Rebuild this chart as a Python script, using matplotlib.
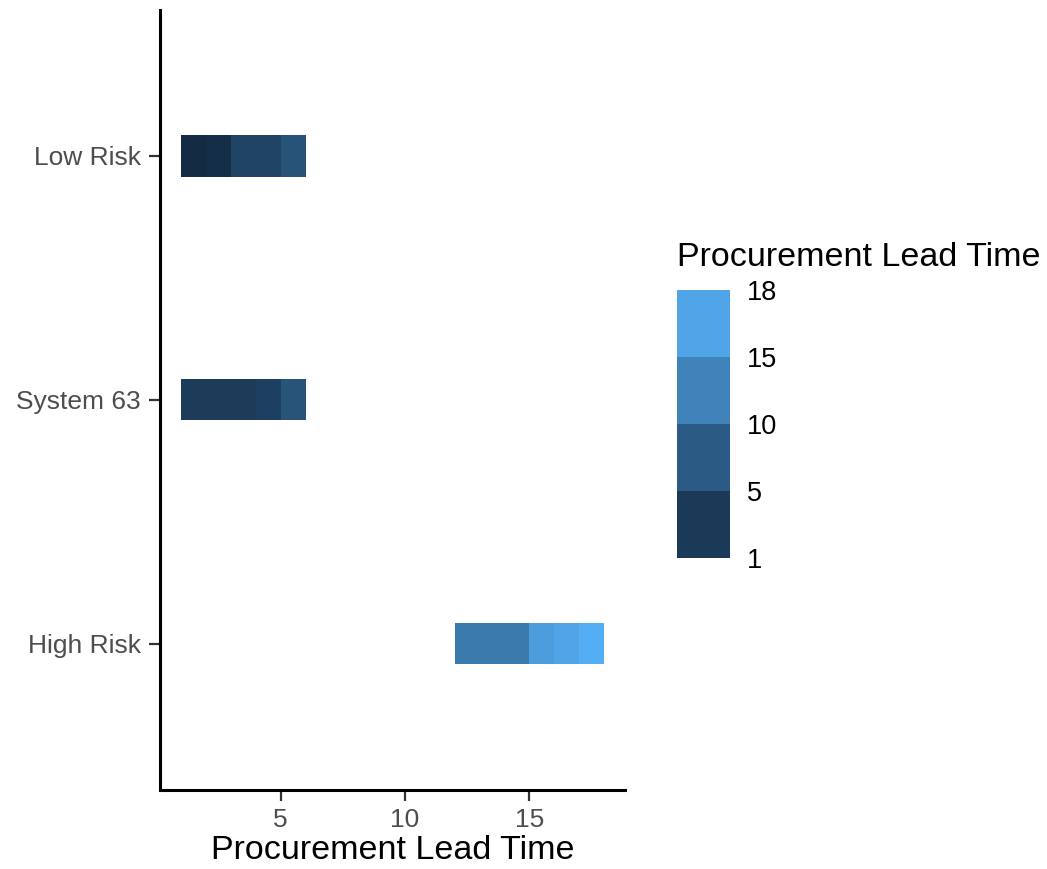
import numpy as np
import matplotlib
matplotlib.use("Agg")
from matplotlib import pyplot as plt
from matplotlib.colors import LinearSegmentedColormap, BoundaryNorm, Normalize
from matplotlib.cm import ScalarMappable

# categories from bottom to top
categories = ["High Risk", "System 63", "Low Risk"]

# tile segments per category: start, end and fill value (lead time)
low_start = [1, 2, 3, 5]
low_end = [2, 3, 5, 6]
low_fill = [1.0, 1.5, 4.4, 6.4]

sys_start = [1, 4, 5]
sys_end = [4, 5, 6]
sys_fill = [3.3, 3.9, 6.5]

high_start = [12, 15, 16, 17]
high_end = [15, 16, 17, 18]
high_fill = [11.4, 15.6, 16.6, 17.6]

legend_breaks = [1, 5, 10, 15, 18]

plt.rcParams["font.family"] = ["Liberation Sans", "DejaVu Sans"]

cmap = LinearSegmentedColormap.from_list("gg", ["#132B43", "#336A98", "#56B1F7"])
norm = Normalize(vmin=1, vmax=18)

fig = plt.figure(figsize=(10.47, 8.69), dpi=100)
ax = fig.add_axes([0.153, 0.091, 0.444, 0.898])

rows = {
    "Low Risk": (low_start, low_end, low_fill),
    "System 63": (sys_start, sys_end, sys_fill),
    "High Risk": (high_start, high_end, high_fill),
}
tile_h = 0.17
for i, cat in enumerate(categories):
    starts, ends, fills = rows[cat]
    for s, e, f in zip(starts, ends, fills):
        ax.barh(i, e - s, left=s, height=tile_h, color=cmap(norm(f)), linewidth=0)

ax.set_xlim(1 - 0.85, 18 + 0.85)
ax.set_ylim(-0.6, 2.6)
ax.set_yticks(range(len(categories)))
ax.set_yticklabels(categories)
ax.set_xticks([5, 10, 15])
ax.tick_params(axis="both", labelsize=19, colors="#333333", length=8, width=1.6,
               labelcolor="#4D4D4D")
ax.tick_params(axis="x", pad=5)
ax.tick_params(axis="y", pad=6)
for side in ["top", "right"]:
    ax.spines[side].set_visible(False)
for side in ["left", "bottom"]:
    ax.spines[side].set_linewidth(2.2)
    ax.spines[side].set_color("black")
ax.set_xlabel("Procurement Lead Time", fontsize=24.5, labelpad=2)

# binned legend
mids = [(a + b) / 2 for a, b in zip(legend_breaks[:-1], legend_breaks[1:])]
bin_cmap = matplotlib.colors.ListedColormap([cmap(norm(m)) for m in mids])
bnorm = BoundaryNorm(legend_breaks, bin_cmap.N)
cax = fig.add_axes([0.6466, 0.3579, 0.0506, 0.3084])
cb = fig.colorbar(ScalarMappable(norm=bnorm, cmap=bin_cmap), cax=cax,
                  ticks=legend_breaks, spacing="uniform")
cb.outline.set_visible(False)
cax.tick_params(length=0, labelsize=19.5, pad=12)
fig.text(0.647, 0.686, "Procurement Lead Time", fontsize=24.5, va="bottom", ha="left")

fig.savefig("out.png", dpi=100)
